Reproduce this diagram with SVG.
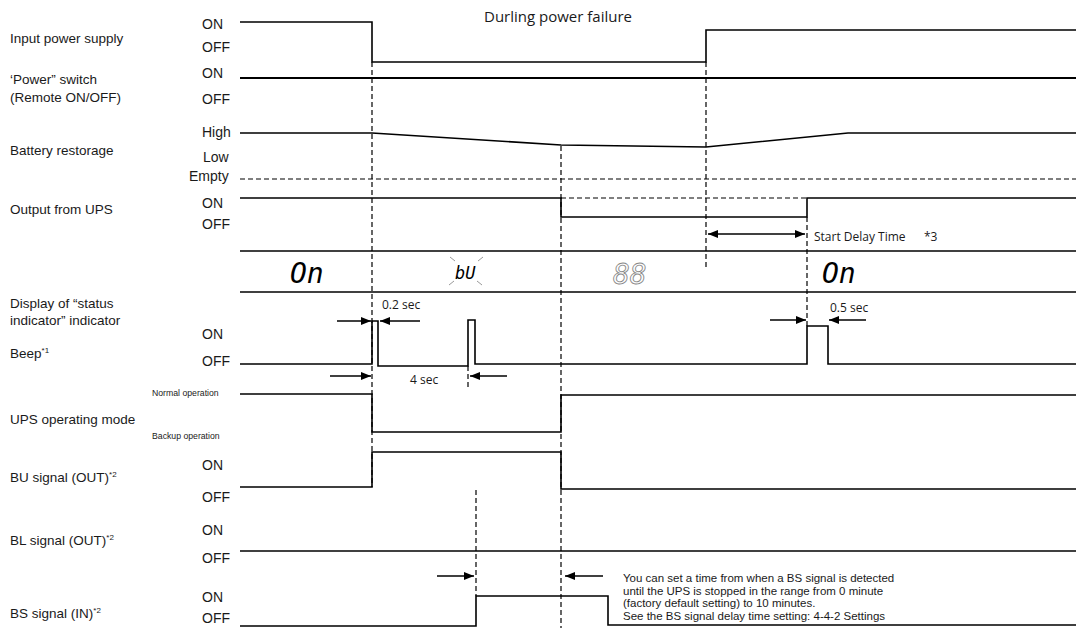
<svg xmlns="http://www.w3.org/2000/svg" width="1086" height="628" viewBox="0 0 1086 628">
<defs>
<marker id="ah" viewBox="0 0 10 8" markerWidth="10" markerHeight="8" refX="10" refY="4" orient="auto-start-reverse" markerUnits="userSpaceOnUse"><path d="M0,0 L10,4 L0,8 z" fill="#000"/></marker>
<style>
.sig{fill:none;stroke:#000;stroke-width:1.6}
.dash{fill:none;stroke:#000;stroke-width:1.2;stroke-dasharray:5 3}
.arr{fill:none;stroke:#000;stroke-width:1.6;marker-end:url(#ah)}
.lab{font-family:"Liberation Sans",Arial,sans-serif;font-size:13.5px;fill:#1a1a1a}
.st{font-family:"Liberation Sans",Arial,sans-serif;font-size:14px;fill:#1a1a1a}
.sm{font-family:"Liberation Sans",Arial,sans-serif;font-size:8.7px;fill:#1a1a1a}
.ann{font-family:"Open Sans",sans-serif;font-size:12px;fill:#1a1a1a}
.note{font-family:"Liberation Sans",Arial,sans-serif;font-size:11.5px;fill:#1a1a1a}
.seg{font-family:"DejaVu Sans Mono",monospace;font-style:italic;font-size:28px;fill:#000}
.ray{stroke:#999;stroke-width:1}
</style>
</defs>
<rect width="1086" height="628" fill="#fff"/>

<text class="ann" x="484" y="22" style="font-size:15px">Durling power failure</text>

<g id="input-power">
<text class="lab" x="10" y="43">Input power supply</text>
<text class="st" x="202" y="29">ON</text>
<text class="st" x="202" y="52">OFF</text>
<polyline class="sig" points="240,22 372,22 372,62 706,62 706,30 1076,30"/>
</g>

<g id="power-switch">
<text class="lab" x="10" y="84">‘Power” switch</text>
<text class="lab" x="10" y="102">(Remote ON/OFF)</text>
<text class="st" x="202" y="78">ON</text>
<text class="st" x="202" y="104">OFF</text>
<line class="sig" x1="240" y1="78" x2="1076" y2="78" style="stroke-width:2"/>
</g>

<g id="battery">
<text class="lab" x="10" y="155">Battery restorage</text>
<text class="st" x="202" y="137">High</text>
<text class="st" x="203" y="162">Low</text>
<text class="st" x="189" y="181">Empty</text>
<polyline class="sig" points="240,133 372,133 561,145 706,147 848,133 1076,133"/>
<line class="dash" x1="240" y1="179" x2="1076" y2="179"/>
</g>

<g id="output-ups">
<text class="lab" x="10" y="214">Output from UPS</text>
<text class="st" x="202" y="208">ON</text>
<text class="st" x="202" y="229">OFF</text>
<polyline class="sig" points="240,198 561,198 561,217 807,217 807,198 1076,198"/>
<line class="dash" x1="561" y1="198" x2="807" y2="198"/>
<text class="ann" x="814" y="241">Start Delay Time</text>
<text class="ann" x="924" y="241">*3</text>
</g>

<g id="display">
<text class="lab" x="10" y="308">Display of “status</text>
<text class="lab" x="10" y="325">indicator” indicator</text>
<line class="sig" x1="240" y1="251" x2="1076" y2="251"/>
<line class="sig" x1="240" y1="292" x2="1076" y2="292"/>
<text class="seg" x="290" y="283">On</text>
<text class="seg" x="455" y="279" style="font-size:17px">bU</text>
<line class="ray" x1="450" y1="257" x2="455" y2="261"/>
<line class="ray" x1="483" y1="257" x2="478" y2="261"/>
<line class="ray" x1="449" y1="285" x2="454" y2="281"/>
<line class="ray" x1="482" y1="285" x2="477" y2="281"/>
<text class="seg" x="613" y="284" style="fill:#fff;stroke:#888;stroke-width:0.9">88</text>
<text class="seg" x="822" y="283">On</text>
</g>

<g id="beep">
<text class="lab" x="10" y="358">Beep<tspan dy="-5" style="font-size:8px">*1</tspan></text>
<text class="st" x="202" y="339">ON</text>
<text class="st" x="202" y="366">OFF</text>
<polyline class="sig" points="240,364 372,364 372,321 378,321 378,366 468,366 468,320 475,320 475,364 807,364 807,326 828,326 828,364 1076,364"/>
<text class="ann" x="382" y="309">0.2 sec</text>
<text class="ann" x="410" y="384">4 sec</text>
<text class="ann" x="830" y="312">0.5 sec</text>
</g>

<g id="ups-mode">
<text class="lab" x="10" y="424">UPS operating mode</text>
<text class="sm" x="152" y="396">Normal operation</text>
<text class="sm" x="152" y="439">Backup operation</text>
<polyline class="sig" points="240,394 372,394 372,432 561,432 561,395 1076,395"/>
</g>

<g id="bu-signal">
<text class="lab" x="10" y="482">BU signal (OUT)<tspan dy="-5" style="font-size:8px">*2</tspan></text>
<text class="st" x="202" y="470">ON</text>
<text class="st" x="202" y="502">OFF</text>
<polyline class="sig" points="240,487 372,487 372,452 561,452 561,489 1076,489"/>
</g>

<g id="bl-signal">
<text class="lab" x="10" y="545">BL signal (OUT)<tspan dy="-5" style="font-size:8px">*2</tspan></text>
<text class="st" x="202" y="535">ON</text>
<text class="st" x="202" y="563">OFF</text>
<line class="sig" x1="240" y1="551" x2="1076" y2="551"/>
</g>

<g id="bs-signal">
<text class="lab" x="10" y="618">BS signal (IN)<tspan dy="-5" style="font-size:8px">*2</tspan></text>
<text class="st" x="202" y="602">ON</text>
<text class="st" x="202" y="623">OFF</text>
<polyline class="sig" points="240,626 476,626 476,596 608,596 608,625 1076,625"/>
<text class="note" x="623" y="582">You can set a time from when a BS signal is detected</text>
<text class="note" x="623" y="595">until the UPS is stopped in the range from 0 minute</text>
<text class="note" x="623" y="607">(factory default setting) to 10 minutes.</text>
<text class="note" x="623" y="620">See the BS signal delay time setting: 4-4-2 Settings</text>
</g>

<g id="connectors">
<line class="dash" x1="372" y1="62" x2="372" y2="487"/>
<line class="dash" x1="561" y1="146" x2="561" y2="628"/>
<line class="dash" x1="706" y1="62" x2="706" y2="270"/>
<line class="dash" x1="807" y1="217" x2="807" y2="326"/>
<line class="dash" x1="476" y1="490" x2="476" y2="596"/>
<line class="dash" x1="468" y1="366" x2="468" y2="388"/>
<line class="arr" x1="337" y1="321" x2="371" y2="321"/>
<line class="arr" x1="420" y1="321" x2="380" y2="321"/>
<line class="arr" x1="330" y1="376" x2="371" y2="376"/>
<line class="arr" x1="507" y1="376" x2="470" y2="376"/>
<line class="arr" x1="770" y1="320" x2="806" y2="320"/>
<line class="arr" x1="866" y1="320" x2="829" y2="320"/>
<line class="arr" x1="708" y1="234" x2="805" y2="234" style="marker-start:url(#ah)"/>
<line class="arr" x1="437" y1="576" x2="474" y2="576"/>
<line class="arr" x1="603" y1="576" x2="565" y2="576"/>
</g>
</svg>
